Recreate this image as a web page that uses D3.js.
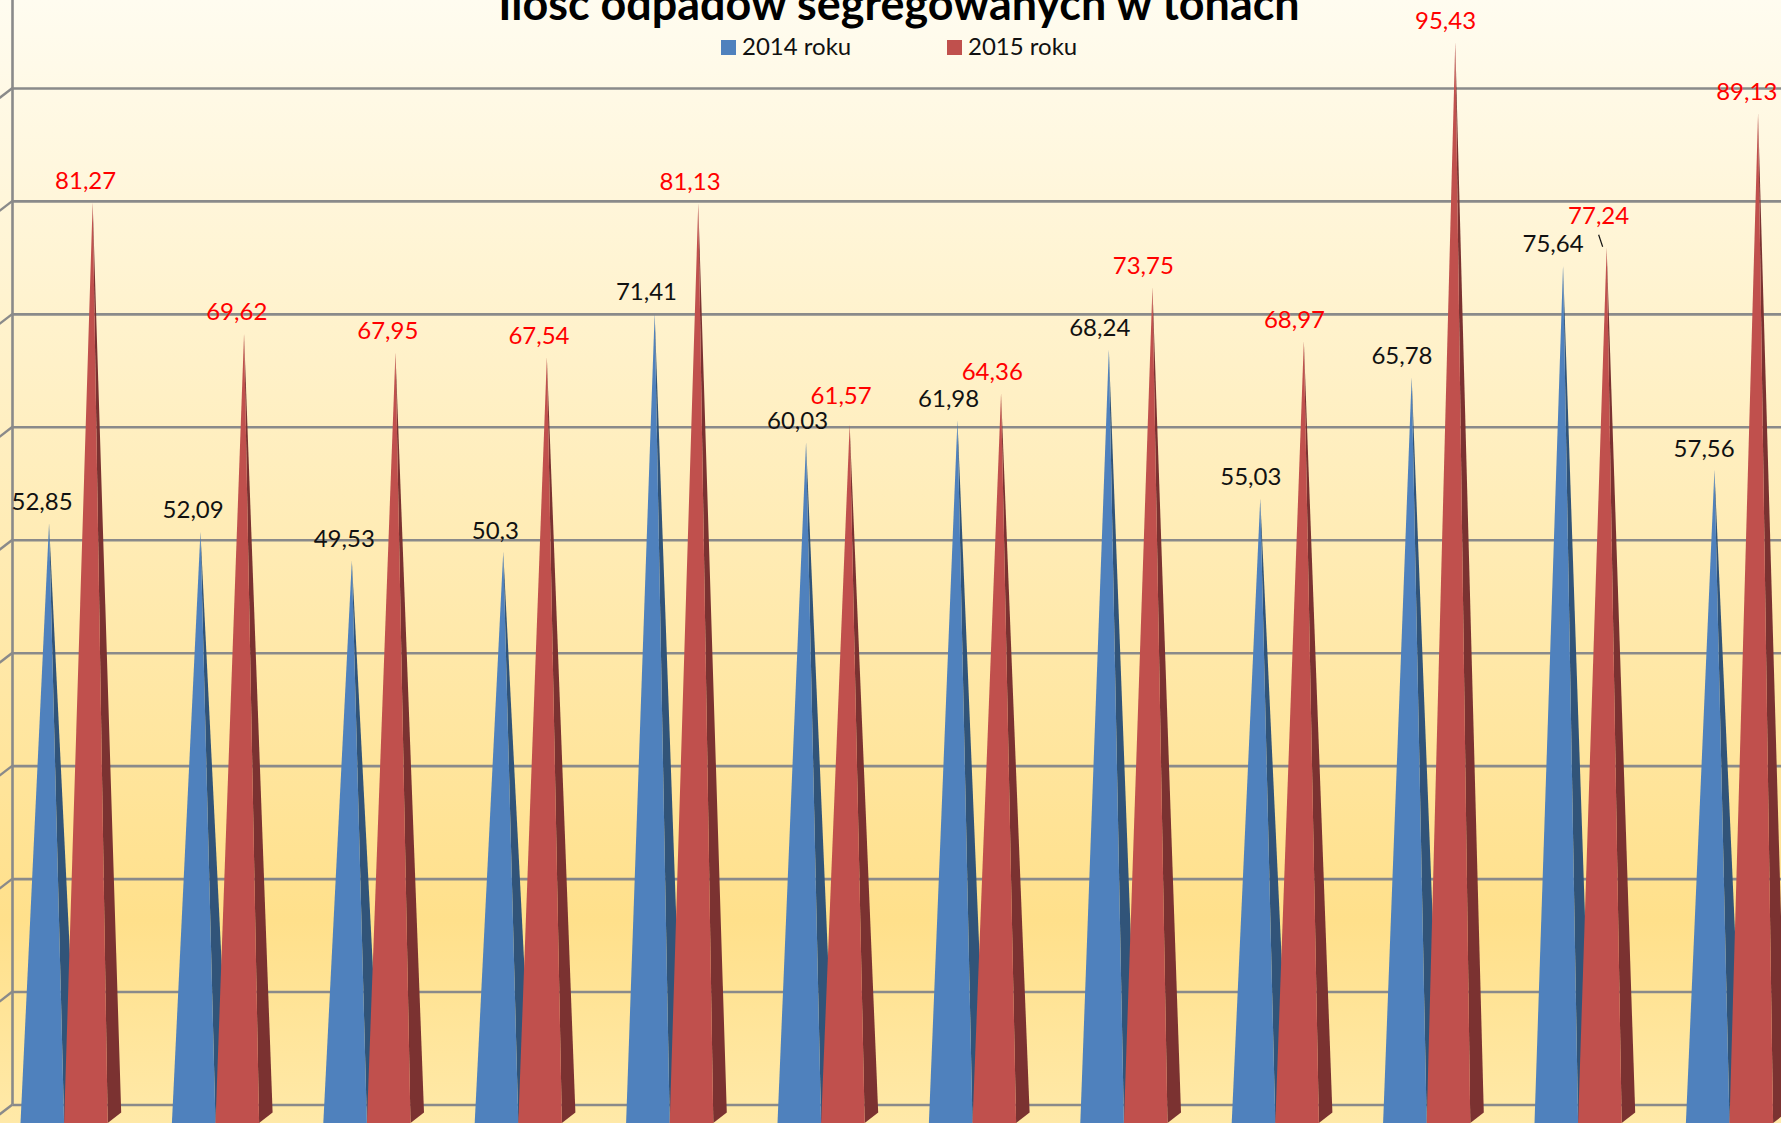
<!DOCTYPE html>
<html>
<head>
<meta charset="utf-8">
<title>Ilość odpadów segregowanych w tonach</title>
<script src="https://cdn.jsdelivr.net/npm/d3@7"></script>
<style>
  html, body { margin: 0; padding: 0; background: #fff; overflow: hidden; }
  svg { display: block; }
  text { font-family: Lato, "Open Sans", sans-serif; }
</style>
</head>
<body>
<svg id="chart" width="1781" height="1123"></svg>
<script>
//Data===
var months = ["styczeń", "luty", "marzec", "kwiecień", "maj", "czerwiec", "lipiec", "sierpień", "wrzesień", "październik", "listopad", "grudzień"];
var values2014 = [52.85, 52.09, 49.53, 50.3, 71.41, 60.03, 61.98, 68.24, 55.03, 65.78, 75.64, 57.56];
var values2015 = [81.27, 69.62, 67.95, 67.54, 81.13, 61.57, 64.36, 73.75, 68.97, 95.43, 77.24, 89.13];
var seriesNames = ["2014 roku", "2015 roku"];
var gridTicks = [0, 10, 20, 30, 40, 50, 60, 70, 80, 90, 100];
var titleText = "Ilość odpadów segregowanych w tonach";

//Layout===
var width = 1781, height = 1123;
var wallX = 12.5;
var floorY = 1104.5;
var baseY = 1123;         //front edge of the pyramids
var depthX = 13.5, depthY = 10.5;
var faceColors = ["#4f81bd", "#c0504d"];
var sideColors = ["#315479", "#7b3231"];
var labelColors = ["#111", "#ff0000"];

//hand placed labels, same as in the original: [month index, dx, dy]
var nudges2015 = { 5: [0, -7], 10: [2, -10], 11: [-1, 0] };

var svg = d3.select("#chart");
var defs = svg.append("defs");

var bg = defs.append("linearGradient")
    .attr("id", "bg")
    .attr("x1", 0).attr("y1", 0).attr("x2", 0).attr("y2", 1);
bg.append("stop").attr("offset", "0%").attr("stop-color", "#fffcf0");
bg.append("stop").attr("offset", "82%").attr("stop-color", "#ffe08b");
bg.append("stop").attr("offset", "100%").attr("stop-color", "#ffe9a8");

svg.append("rect")
    .attr("width", width)
    .attr("height", height)
    .attr("fill", "url(#bg)");

//Scales===
var x = d3.scaleBand().domain(months).range([0, 151.4 * 12]);
var xLabel = d3.scaleBand().domain(months).range([0, 151.1 * 12]);   //labels sit a bit tighter than the bars
var inner = d3.scaleBand().domain([0, 1]).range([20.5, 20.5 + 87.2]);
var y = d3.scaleLinear().domain([0, 100]).range([1120.5, 1120.5 - 1130]);
var yWall = d3.scaleLinear().domain([0, 100]).range([floorY, floorY - 1129.5]);

//Back wall and gridlines===
var axis = d3.axisRight(yWall)
    .tickValues(gridTicks)
    .tickSize(width)
    .tickFormat("");

var grid = svg.append("g")
    .attr("transform", "translate(" + wallX + ",0)")
    .call(axis);
grid.select(".domain").remove();
grid.selectAll("line")
    .attr("stroke", "#8a8a8a")
    .attr("stroke-width", 2.6);

svg.selectAll("line.wall-tick")
    .data(gridTicks)
  .enter().append("line")
    .attr("class", "wall-tick")
    .attr("x1", wallX)
    .attr("y1", function(d) { return yWall(d); })
    .attr("x2", wallX - 13)
    .attr("y2", function(d) { return yWall(d) + 10; })
    .attr("stroke", "#8a8a8a")
    .attr("stroke-width", 2.4);

svg.append("line")
    .attr("x1", wallX).attr("x2", wallX)
    .attr("y1", 0).attr("y2", floorY)
    .attr("stroke", "#8a8a8a")
    .attr("stroke-width", 2.6);

//Pyramids===
function apexX(month, s) {
  return x(month) + inner(s) + inner.bandwidth() / 2 + depthX / 2;
}

function pyramid(month, s, v) {
  var left = x(month) + inner(s);
  var right = left + inner.bandwidth();
  var tip = [apexX(month, s), y(v)];
  return {
    front: [[left, baseY], [right, baseY], tip],
    side: [[right, baseY], [right + depthX, baseY - depthY], tip]
  };
}

var line = d3.line();
var seriesValues = [values2014, values2015];

var groups = svg.selectAll("g.month")
    .data(months)
  .enter().append("g")
    .attr("class", "month");

groups.each(function(month, i) {
  var g = d3.select(this);
  [0, 1].forEach(function(s) {
    var p = pyramid(month, s, seriesValues[s][i]);
    g.append("path")
        .attr("d", line(p.side) + "Z")
        .attr("fill", sideColors[s]);
    g.append("path")
        .attr("d", line(p.front) + "Z")
        .attr("fill", faceColors[s]);
  });
});

//Data labels===
var fmt = d3.formatLocale({ decimal: ",", thousands: " ", grouping: [3], currency: ["", ""] }).format(".2~f");

[0, 1].forEach(function(s) {
  svg.selectAll("text.label" + s)
      .data(seriesValues[s])
    .enter().append("text")
      .attr("class", "label" + s)
      .attr("text-anchor", "middle")
      .attr("font-size", 24)
      .attr("fill", labelColors[s])
      .attr("x", function(d, i) {
        var n = s == 1 && nudges2015[i] ? nudges2015[i][0] : 0;
        return xLabel(months[i]) + inner(s) + inner.bandwidth() / 2 + depthX / 2 - 7 + n;
      })
      .attr("y", function(d, i) {
        var n = s == 1 && nudges2015[i] ? nudges2015[i][1] : 0;
        return y(d) - 13.5 + n;
      })
      .text(fmt);
});

//Leader of the 77,24 label
svg.append("line")
    .attr("x1", apexX(months[10], 1) - 8)
    .attr("y1", y(values2015[10]) - 13)
    .attr("x2", apexX(months[10], 1) - 4)
    .attr("y2", y(values2015[10]) - 1)
    .attr("stroke", "#111")
    .attr("stroke-width", 1.2);

//Title and legend===
svg.append("text")
    .attr("x", 899)
    .attr("y", 20)
    .attr("text-anchor", "middle")
    .attr("font-size", 44.9)
    .attr("font-weight", "bold")
    .attr("fill", "#000")
    .text(titleText);

var legendX = [721, 947];
var legend = svg.selectAll("g.legend")
    .data(seriesNames)
  .enter().append("g")
    .attr("class", "legend")
    .attr("transform", function(d, i) { return "translate(" + legendX[i] + ",40)"; });

legend.append("rect")
    .attr("width", 15)
    .attr("height", 15)
    .attr("fill", function(d, i) { return faceColors[i]; });

legend.append("text")
    .attr("x", 21)
    .attr("y", 15)
    .attr("font-size", 24)
    .attr("fill", "#111")
    .text(function(d) { return d; });
</script>
</body>
</html>
